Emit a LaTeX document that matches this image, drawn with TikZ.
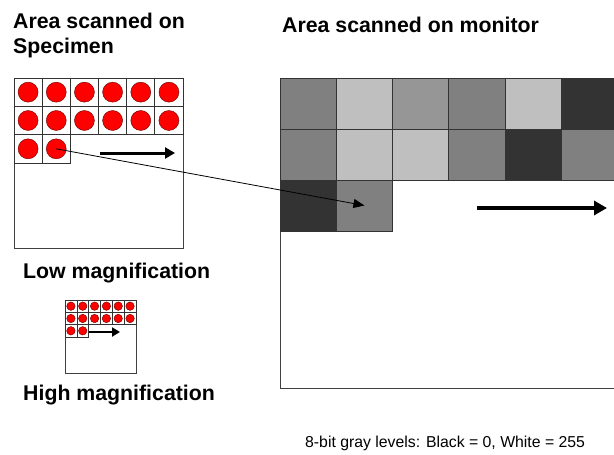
\documentclass[tikz,border=0pt]{standalone}
\usepackage{fontspec}
\setmainfont{Liberation Sans}
\usetikzlibrary{arrows.meta,positioning}

\definecolor{greyMid}{gray}{0.50}
\definecolor{greyLight}{gray}{0.75}
\definecolor{greySoft}{gray}{0.59}
\definecolor{greyDark}{gray}{0.20}

\begin{document}
\begin{tikzpicture}[x=1pt,y=-1pt,
            heading/.style={font=\fontsize{21.3}{25}\selectfont\bfseries, anchor=base west, inner sep=0pt},
            note/.style={font=\fontsize{15.8}{18}\selectfont, anchor=base west, inner sep=0pt},
            frame/.style={rectangle, draw=black!75, line width=1.2pt, anchor=north west, inner sep=0pt},
            cell/.style={rectangle, draw=black!80, line width=0.9pt, inner sep=0pt},
            spot/.style={circle, draw=black!60!red, fill=red, inner sep=0pt},
            scan/.style={line width=3pt, -{Triangle[length=10pt,width=11pt]}},
            link/.style={line width=0.8pt, -{Triangle[length=11pt,width=9pt]}}]
    \clip (0,0) rectangle (614,455);
    \useasboundingbox (0,0) rectangle (614,455);

    % titles
    \node[heading] (spec-title) at (13,28) {Area scanned on};
    \node[heading] (spec-title2) at (13,53) {Specimen};
    \node[heading] (mon-title) at (282,32) {Area scanned on monitor};

    % specimen, low magnification
    \node[frame, minimum width=169pt, minimum height=170pt] (specimen) at (14,78) {};
    \foreach \r/\n in {1/6,2/6,3/2}
        \foreach \c in {1,...,\n} {
            \node[cell, minimum width=28.17pt, minimum height=28.33pt]
                (s-\r-\c) at (14+28.17*\c-14.08, 78+28.33*\r-14.17) {};
            \node[spot, minimum size=20pt] (d-\r-\c) at (s-\r-\c) {};
        }
    \coordinate (scan-a) at (100,153);
    \coordinate (scan-b) at (175,153);
    \draw[scan] (scan-a) -- (scan-b);
    \node[heading] (low) at (23,278) {Low magnification};

    % specimen, high magnification
    \node[frame, line width=1pt, minimum width=71pt, minimum height=73pt] (small) at (65,300) {};
    \foreach \r/\n in {1/6,2/6,3/2}
        \foreach \c in {1,...,\n} {
            \node[cell, line width=0.6pt, minimum width=11.83pt, minimum height=12.33pt]
                (t-\r-\c) at (65+11.83*\c-5.92, 300+12.33*\r-6.17) {};
            \node[spot, minimum size=8.5pt] (e-\r-\c) at (t-\r-\c) {};
        }
    \coordinate (small-a) at (89,332);
    \coordinate (small-b) at (120,332);
    \draw[line width=2.8pt, -{Triangle[length=8pt,width=9pt]}] (small-a) -- (small-b);
    \node[heading] (high) at (23,400) {High magnification};

    % monitor
    \node[frame, minimum width=340pt, minimum height=310pt] (monitor) at (280,78) {};
    \foreach \r/\shades in {1/{greyMid,greyLight,greySoft,greyMid,greyLight,greyDark},
                            2/{greyMid,greyLight,greyLight,greyMid,greyDark,greyMid},
                            3/{greyDark,greyMid}}
        \foreach \g [count=\c] in \shades {
            \node[cell, fill=\g, minimum width=56.3pt, minimum height=51pt]
                (m-\r-\c) at (280+56.3*\c-28.15, 78+51*\r-25.5) {};
        }
    \coordinate (mon-a) at (477,208);
    \coordinate (mon-b) at (607,208);
    \draw[scan, line width=4pt, -{Triangle[length=13pt,width=14pt]}] (mon-a) -- (mon-b);

    % one spot maps to one pixel
    \draw[link] (d-3-2.center) -- (m-3-2.center);

    \node[note] (levels) at (305,447) {8-bit gray levels: Black = 0, White = 255};
\end{tikzpicture}
\end{document}
